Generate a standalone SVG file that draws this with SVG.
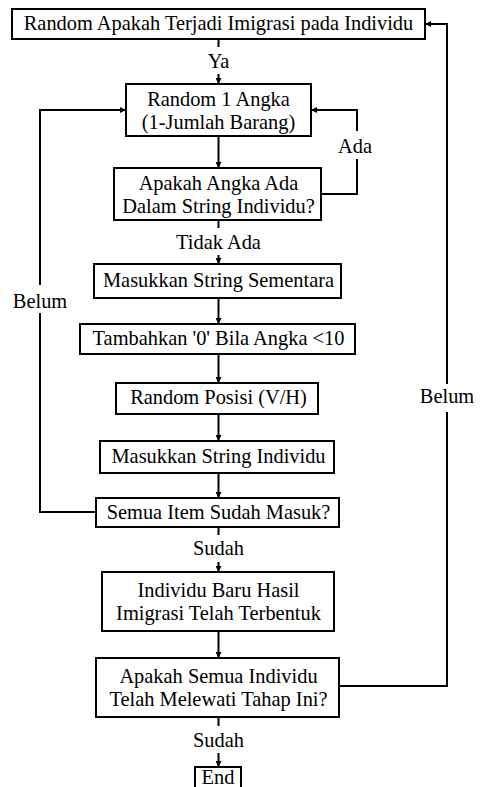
<svg xmlns="http://www.w3.org/2000/svg" width="481" height="787" viewBox="0 0 481 787">
<style>
.box{fill:#fff;stroke:#000;stroke-width:2}
text{font-family:'Liberation Serif','Times New Roman',serif;font-size:20.4px;fill:#000;text-anchor:middle}
.c{fill:none;stroke:#000;stroke-width:2}
</style>
<defs>
<marker id="ah" viewBox="0 0 10 10" refX="10" refY="5" markerWidth="6" markerHeight="6" orient="auto" markerUnits="userSpaceOnUse">
<path d="M0,0 L10,5 L0,10 z" fill="#000"/>
</marker>
</defs>
<rect width="481" height="787" fill="#fff"/>
<g id="connectors">
<line class="c" x1="218.5" y1="39" x2="218.5" y2="47"/>
<line class="c" x1="218.5" y1="74" x2="218.5" y2="84" marker-end="url(#ah)"/>
<line class="c" x1="218.5" y1="136" x2="218.5" y2="168" marker-end="url(#ah)"/>
<polyline class="c" points="321,194 357,194 357,159"/>
<polyline class="c" points="357,131 357,110 311,110" marker-end="url(#ah)"/>
<line class="c" x1="218.5" y1="220" x2="218.5" y2="228"/>
<line class="c" x1="218.5" y1="255" x2="218.5" y2="264" marker-end="url(#ah)"/>
<line class="c" x1="218.5" y1="298" x2="218.5" y2="324" marker-end="url(#ah)"/>
<line class="c" x1="218.5" y1="354" x2="218.5" y2="383" marker-end="url(#ah)"/>
<line class="c" x1="218.5" y1="414" x2="218.5" y2="441" marker-end="url(#ah)"/>
<line class="c" x1="218.5" y1="473" x2="218.5" y2="498" marker-end="url(#ah)"/>
<polyline class="c" points="96,512 40,512 40,313"/>
<polyline class="c" points="40,285 40,110 126,110" marker-end="url(#ah)"/>
<line class="c" x1="218.5" y1="527" x2="218.5" y2="535"/>
<line class="c" x1="218.5" y1="562" x2="218.5" y2="572" marker-end="url(#ah)"/>
<line class="c" x1="218.5" y1="631" x2="218.5" y2="658" marker-end="url(#ah)"/>
<polyline class="c" points="339,686 447,686 447,412"/>
<polyline class="c" points="447,384 447,24 425,24" marker-end="url(#ah)"/>
<line class="c" x1="218.5" y1="717" x2="218.5" y2="726"/>
<line class="c" x1="218.5" y1="753" x2="218.5" y2="767" marker-end="url(#ah)"/>
<text x="218.5" y="68">Ya</text>
<text x="355" y="153">Ada</text>
<text x="218.5" y="249">Tidak Ada</text>
<text x="40" y="308">Belum</text>
<text x="447" y="403">Belum</text>
<text x="218.5" y="555">Sudah</text>
<text x="218.5" y="747">Sudah</text>
</g>
<g id="n1"><rect class="box" x="12" y="9" width="413" height="30"/><text x="218.5" y="30">Random Apakah Terjadi Imigrasi pada Individu</text></g>
<g id="n2"><rect class="box" x="126" y="84" width="185" height="52"/><text x="218.5" y="106">Random 1 Angka</text><text x="218.5" y="129">(1-Jumlah Barang)</text></g>
<g id="n3"><rect class="box" x="114" y="168" width="207" height="52"/><text x="218.5" y="190">Apakah Angka Ada</text><text x="218.5" y="213">Dalam String Individu?</text></g>
<g id="n4"><rect class="box" x="94" y="264" width="247" height="34"/><text x="218.5" y="287">Masukkan String Sementara</text></g>
<g id="n5"><rect class="box" x="80" y="324" width="275" height="30"/><text x="218.5" y="345">Tambahkan '0' Bila Angka &lt;10</text></g>
<g id="n6"><rect class="box" x="116" y="383" width="202" height="31"/><text x="218.5" y="404">Random Posisi (V/H)</text></g>
<g id="n7"><rect class="box" x="100" y="441" width="234" height="32"/><text x="218.5" y="463">Masukkan String Individu</text></g>
<g id="n8"><rect class="box" x="96" y="498" width="243" height="29"/><text x="218.5" y="519">Semua Item Sudah Masuk?</text></g>
<g id="n9"><rect class="box" x="102" y="572" width="232" height="59"/><text x="218.5" y="597">Individu Baru Hasil</text><text x="218.5" y="620">Imigrasi Telah Terbentuk</text></g>
<g id="n10"><rect class="box" x="96" y="658" width="243" height="59"/><text x="218.5" y="683">Apakah Semua Individu</text><text x="218.5" y="706">Telah Melewati Tahap Ini?</text></g>
<g id="n11"><rect class="box" x="195" y="767" width="46" height="30"/><text x="218" y="784">End</text></g>
</svg>
